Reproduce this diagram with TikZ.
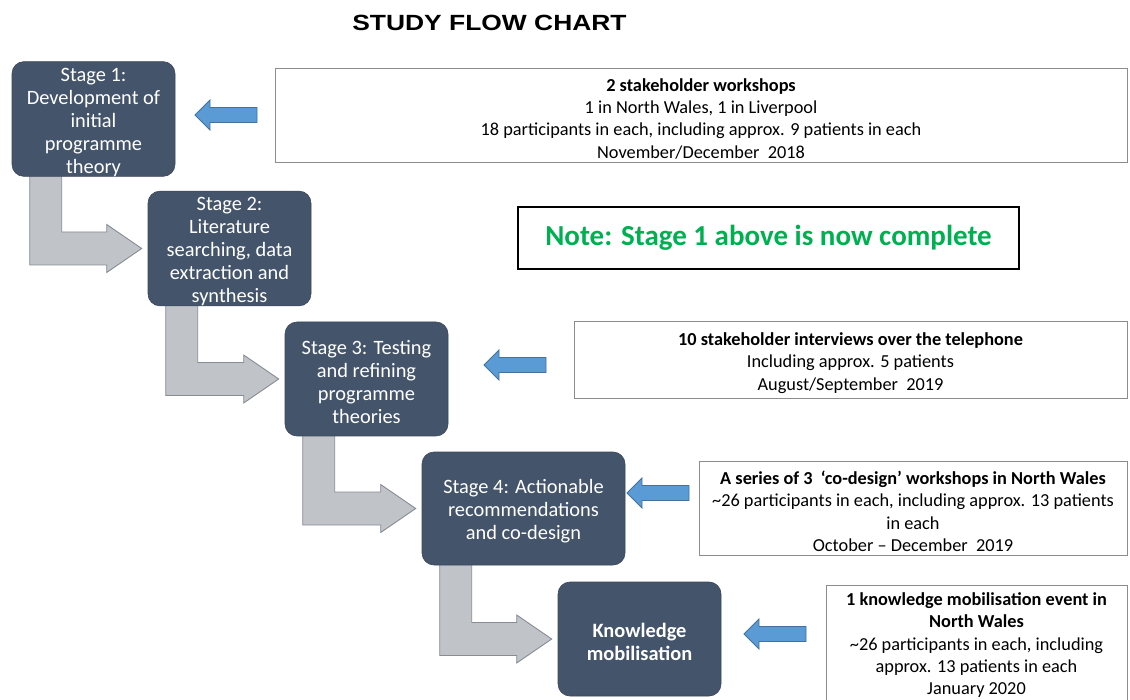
\documentclass[tikz,border=0pt]{standalone}
\usepackage{fontspec}
\setmainfont{Carlito}
\newfontfamily\titlefont{Liberation Sans}
\usetikzlibrary{calc}
\pgfdeclarelayer{bg}
\pgfsetlayers{bg,main}
\definecolor{stagefill}{HTML}{44546A}
\definecolor{grayfill}{HTML}{C0C4C9}
\definecolor{grayline}{HTML}{858C94}
\definecolor{bluefill}{HTML}{5B9BD5}
\definecolor{blueline}{HTML}{41719C}
\definecolor{notegreen}{HTML}{00B050}
\definecolor{boxline}{HTML}{8C8C8C}
\newcommand\tstrut[1]{\rule{0pt}{#1}}
\tikzset{
  stagebox/.style={rectangle, rounded corners=12pt, fill=stagefill, draw=stagefill!85!black, line width=0.6pt,
    text=white, align=center, inner sep=0pt, font=\fontsize{20.4}{23}\selectfont},
  infobox/.style={rectangle, draw=boxline, line width=0.9pt, fill=white, align=center, inner sep=0pt,
    font=\fontsize{18.3}{22.3}\selectfont},
  grayarrow/.style={fill=grayfill, draw=grayline, line width=0.9pt, line join=miter},
  bluearrow/.style={fill=bluefill, draw=blueline, line width=0.9pt, line join=miter},
}
\newcommand\bentarr[2]{%
  \path[grayarrow] let \p1=(#1.south west), \p2=(#2.west) in
   (\x1+18pt,\y1+2pt) -- (\x1+18pt,\y2-16.5pt) -- (\x2-41pt,\y2-16.5pt) -- (\x2-41pt,\y2-24pt)
   -- (\x2-6pt,\y2) -- (\x2-41pt,\y2+24pt) -- (\x2-41pt,\y2+16.5pt) -- (\x1+50pt,\y2+16.5pt)
   -- (\x1+50pt,\y1+2pt) -- cycle;}
\newcommand\bluearr[1]{%
  \path[bluearrow] (#1) ++(0,-7.5) -- ++(-47,0) -- ++(0,-7.5) -- ++(-15,15) -- ++(15,15)
   -- ++(0,-7.5) -- ++(47,0) -- cycle;}
\begin{document}
\begin{tikzpicture}[x=1pt,y=-1pt]
\useasboundingbox (0,0) rectangle (1130,700);
\node[font=\titlefont\fontsize{22}{26}\selectfont\bfseries, inner sep=0pt] (title) at (489.5,22.5)
  {\scalebox{1.2}[1]{STUDY FLOW CHART}};

% stage boxes
\node[stagebox, minimum width=163pt, minimum height=114pt] (s1) at (93.5,119)
  {\tstrut{19.5pt}Stage 1:\\Development of\\initial\\programme\\theory};
\node[stagebox, minimum width=163pt, minimum height=113pt] (s2) at (229.5,248.5)
  {\tstrut{19.5pt}Stage 2:\\Literature\\searching, data\\extraction and\\synthesis};
\node[stagebox, minimum width=163pt, minimum height=114pt] (s3) at (366.5,379)
  {\tstrut{19.5pt}Stage 3: Testing\\and refining\\programme\\theories};
\node[stagebox, minimum width=203pt, minimum height=113pt] (s4) at (523.5,508.5)
  {\tstrut{19.5pt}Stage 4: Actionable\\recommendations\\and co-design};
\node[stagebox, minimum width=163pt, minimum height=114pt, font=\fontsize{20.4}{23}\selectfont\bfseries] (s5) at (639.5,639)
  {\tstrut{19.5pt}Knowledge\\mobilisation};

% info boxes
\node[infobox, minimum width=852pt, minimum height=94pt] (b1) at (701,115)
  {\tstrut{20pt}\textbf{2 stakeholder workshops}\\1 in North Wales, 1 in Liverpool\\18 participants in each, including approx. 9 patients in each\\November/December\ \ 2018};
\node[infobox, minimum width=553pt, minimum height=77pt] (b2) at (850.5,359.5)
  {\tstrut{20pt}\textbf{10 stakeholder interviews over the telephone}\\Including approx. 5 patients\\August/September\ \ 2019};
\node[infobox, minimum width=428pt, minimum height=94pt] (b3) at (913,508)
  {\tstrut{20pt}\textbf{A series of 3\ \ ‘co-design’ workshops in North Wales}\\\textasciitilde26 participants in each, including approx. 13 patients\\in each\\October -- December\ \ 2019};
\node[infobox, minimum width=301pt, minimum height=115pt] (b4) at (976.5,642.5)
  {\tstrut{18pt}\textbf{1 knowledge mobilisation event in}\\\textbf{North Wales}\\\textasciitilde26 participants in each, including\\approx. 13 patients in each\\January 2020};

% note
\node[draw=black, line width=1.3pt, minimum width=501pt, minimum height=62pt, inner sep=0pt,
  text=notegreen, font=\fontsize{29}{33}\selectfont\bfseries] (note) at (768.5,238)
  {Note: Stage 1 above is now complete};

% blue arrows
\coordinate (t1) at (257,115);
\coordinate (t2) at (546,365);
\coordinate (t3) at (689,493);
\coordinate (t4) at (806,634);
\bluearr{t1}
\bluearr{t2}
\bluearr{t3}
\bluearr{t4}

% gray bent arrows
\begin{pgfonlayer}{bg}
\bentarr{s1}{s2}
\bentarr{s2}{s3}
\bentarr{s3}{s4}
\bentarr{s4}{s5}
\end{pgfonlayer}
\end{tikzpicture}
\end{document}
